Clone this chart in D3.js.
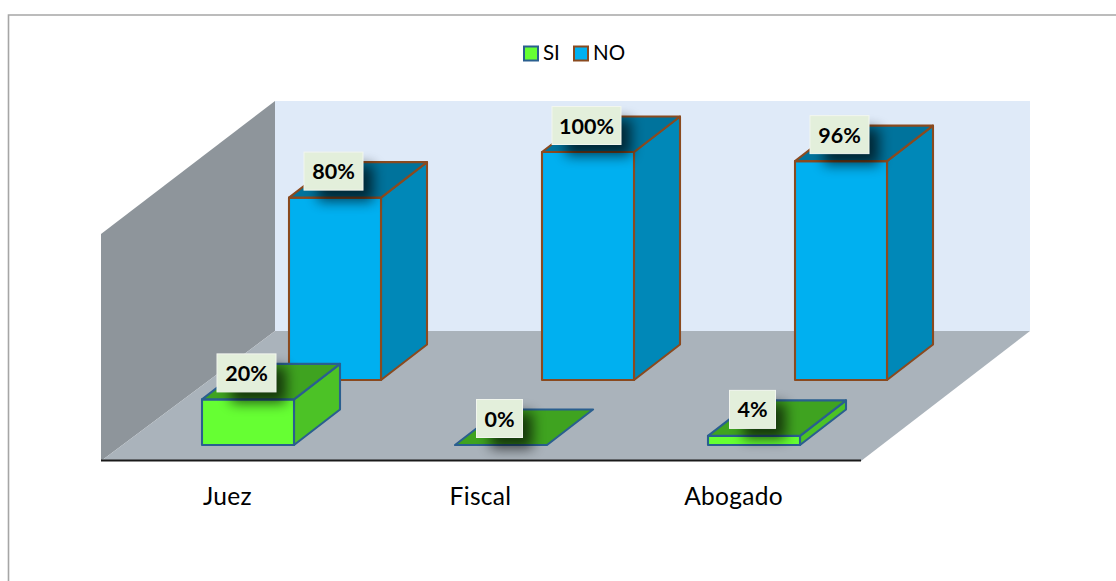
<!DOCTYPE html>
<html><head><meta charset="utf-8">
<script src="https://cdnjs.cloudflare.com/ajax/libs/d3/7.8.5/d3.min.js"></script>
<style>html,body{margin:0;padding:0;background:#fff}svg{display:block}text{font-family:Lato,"Open Sans",sans-serif;fill:#000}</style>
</head><body>
<script>
const categories = ["Juez", "Fiscal", "Abogado"];
const seriesNames = ["SI", "NO"];
const siValues = [20, 0, 4];
const noValues = [80, 100, 96];

const W = 1116, H = 581;
const svg = d3.select("body").append("svg").attr("width", W).attr("height", H);

const defs = svg.append("defs");
defs.append("filter").attr("id", "blur").attr("x", "-60%").attr("y", "-60%").attr("width", "220%").attr("height", "220%")
  .append("feGaussianBlur").attr("stdDeviation", 6.5);

// chart frame (open on the right and bottom)
svg.append("path").attr("d", `M8.5,${H}V15H${W}`).attr("fill", "none").attr("stroke", "#a6a6a6").attr("stroke-width", 1.6);

// scene geometry
const frontL = 101, frontR = 860, floorY = 461, backY = 331, topY = 101, depthX = 174, backR = 1030;
const x = d3.scaleBand().domain(categories).range([frontL, frontR]);
const seriesOffset = d3.scaleOrdinal().domain(seriesNames).range([101, 188]);
const barW = 92, barDX = 46, barDY = 35.5;
const baseY = d3.scaleOrdinal().domain(seriesNames).range([445, 380]);
const h = d3.scaleLinear().domain([0, 100]).range([0, 228]);

const line = d3.line();
const poly = (pts, fill, stroke, sw) => svg.append("path").attr("d", line(pts) + "Z")
  .attr("fill", fill).attr("stroke", stroke || "none").attr("stroke-width", sw || 0).attr("stroke-linejoin", "round");

// walls and floor
poly([[frontL + depthX, backY], [backR, backY], [backR, topY], [frontL + depthX, topY]], "#dfeaf8");
poly([[frontL, 234], [frontL + depthX, topY], [frontL + depthX, backY], [frontL, floorY]], "#8e959b");
poly([[frontL, floorY], [frontR + 1, floorY], [backR, backY], [frontL + depthX, backY]], "#aab3bb");
svg.append("line").attr("x1", frontL).attr("x2", frontR + 1).attr("y1", floorY - 0.5).attr("y2", floorY - 0.5)
  .attr("stroke", "#1a1a1a").attr("stroke-width", 2);

const style = {
  SI: { front: "#66ff33", side: "#4cc226", top: "#3fa320", stroke: "#2a5f8f" },
  NO: { front: "#00b0f0", side: "#0088b8", top: "#00739c", stroke: "#8a4a1f" }
};

const rows = [];
seriesNames.forEach((s, si) => {
  (si === 0 ? siValues : noValues).forEach((v, i) => rows.push({ s, v, c: categories[i] }));
});

function drawBar(d) {
  const st = style[d.s], x0 = x(d.c) + seriesOffset(d.s), x1 = x0 + barW;
  const b = baseY(d.s), t = b - h(d.v), sw = 2.1;
  if (d.v > 0) {
    poly([[x1, b], [x1 + barDX, b - barDY], [x1 + barDX, t - barDY], [x1, t]], st.side, st.stroke, sw);
    poly([[x0, b], [x1, b], [x1, t], [x0, t]], st.front, st.stroke, sw);
  }
  poly([[x0, t], [x1, t], [x1 + barDX, t - barDY], [x0 + barDX, t - barDY]], st.top, st.stroke, sw);
}
rows.filter(d => d.s === "NO").forEach(drawBar);
rows.filter(d => d.s === "SI").forEach(drawBar);

// data labels with soft shadow
rows.forEach(d => {
  const x0 = x(d.c) + seriesOffset(d.s), cx = x0 + barW / 2 - 1.5;
  const cy = baseY(d.s) - h(d.v) - 26.5;
  const g = svg.append("g");
  const label = d.v + "%";
  const tw = label.length === 4 ? 69 : label.length === 3 ? 59 : 46;
  g.append("rect").attr("x", cx - tw / 2 + 14).attr("y", cy - 6).attr("width", tw - 4).attr("height", 36)
    .attr("fill", "#000").attr("opacity", 0.66).attr("filter", "url(#blur)");
  g.append("rect").attr("x", cx - tw / 2).attr("y", cy - 19).attr("width", tw).attr("height", 38)
    .attr("fill", "#e3efdb").attr("stroke", "#f2f6ee").attr("stroke-width", 1);
  g.append("text").attr("x", cx).attr("y", cy + 8).attr("text-anchor", "middle")
    .attr("font-size", 21.5).attr("font-weight", 700).text(label);
});

// category labels
svg.selectAll(".cat").data(categories).join("text").attr("class", "cat")
  .attr("x", d => x(d) + x.bandwidth() / 2).attr("y", 505).attr("text-anchor", "middle")
  .attr("font-size", 24.5).attr("letter-spacing", 0.3).text(d => d);

// legend
const legendX = d3.scaleOrdinal().domain(seriesNames).range([524, 574]);
seriesNames.forEach(s => {
  const st = style[s];
  svg.append("rect").attr("x", legendX(s)).attr("y", 46.5).attr("width", 14).attr("height", 14)
    .attr("fill", st.front).attr("stroke", st.stroke).attr("stroke-width", 2);
  svg.append("text").attr("x", legendX(s) + 19).attr("y", 60).attr("font-size", 20.5).text(s);
});
</script>
</body></html>
